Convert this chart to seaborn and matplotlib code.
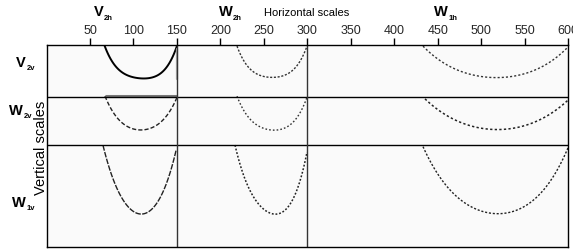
import matplotlib
matplotlib.use("Agg")
import matplotlib.pyplot as plt
import seaborn as sns
import pandas as pd

# ---- data (horizontal-scale units, vertical offset units from top) ----
x_ticks = [50, 100, 150, 200, 250, 300, 350, 400, 450, 500, 550, 600]
row_bounds = [52, 100]
col_bounds = [150, 300]

v2v_v2h_x = [66.2, 73.1, 82.3, 93.8, 109.9, 124.8, 136.3, 145.5, 150.0]
v2v_v2h_y = [0, 11, 25, 31, 33, 31, 25, 11, 1]
v2v_w2h_x = [219.2, 224.9, 234.1, 243.3, 251.4, 262.9, 274.4, 285.9, 295.1, 299.7]
v2v_w2h_y = [1, 13, 23, 30, 32, 32, 30, 23, 11, 1]
v2v_w1h_x = [433.2, 444.7, 460.8, 479.2, 498.7, 518.3, 536.7, 556.3, 575.8, 590.8, 600.0]
v2v_w1h_y = [1, 11, 19, 27, 32, 33, 31, 26, 19, 11, 1]

w2v_v2h_x = [67.3, 70.8, 78.8, 90.3, 107.6, 124.8, 138.6, 145.5, 150.0]
w2v_v2h_y = [51, 58, 70, 80, 85, 81, 71, 60, 53]
w2v_w2h_x = [219.2, 224.9, 234.1, 243.3, 254.9, 266.4, 276.7, 288.2, 297.4, 300.0]
w2v_w2h_y = [51, 63, 73, 81, 85, 85, 81, 73, 58, 51]
w2v_w1h_x = [435.5, 449.3, 464.3, 483.8, 506.8, 525.3, 544.8, 564.4, 582.8, 594.3, 600.0]
w2v_w1h_y = [54, 64, 72, 80, 84, 85, 81, 76, 67, 61, 54]

w1v_v2h_x = [65.0, 70.8, 78.8, 88.0, 98.4, 107.6, 116.8, 128.3, 138.6, 145.5, 149.0]
w1v_v2h_y = [101, 118, 138, 156, 166, 169, 166, 156, 138, 118, 105]
w1v_w2h_x = [216.9, 222.6, 230.7, 239.9, 249.1, 260.6, 272.1, 282.5, 291.7, 297.4, 299.7]
w1v_w2h_y = [101, 118, 138, 155, 165, 169, 165, 155, 138, 118, 105]
w1v_w1h_x = [433.2, 444.7, 460.8, 479.2, 498.7, 518.3, 536.7, 556.3, 575.8, 590.8, 600.0]
w1v_w1h_y = [102, 121, 141, 157, 166, 169, 166, 157, 141, 121, 102]

curves = [
    (v2v_v2h_x, v2v_v2h_y, dict(color="black", lw=1.4, ls="-")),
    (v2v_w2h_x, v2v_w2h_y, dict(color="#333333", lw=1.0, ls=(0, (1.5, 1.2)))),
    (v2v_w1h_x, v2v_w1h_y, dict(color="#333333", lw=1.0, ls=(0, (1.5, 1.5)))),
    (w2v_v2h_x, w2v_v2h_y, dict(color="#222222", lw=1.0, ls=(0, (3, 1.5)))),
    (w2v_w2h_x, w2v_w2h_y, dict(color="#333333", lw=1.0, ls=(0, (1.2, 1.5)))),
    (w2v_w1h_x, w2v_w1h_y, dict(color="#222222", lw=1.1, ls=(0, (1.5, 1.5)))),
    (w1v_v2h_x, w1v_v2h_y, dict(color="#222222", lw=1.0, ls=(0, (4, 1)))),
    (w1v_w2h_x, w1v_w2h_y, dict(color="#222222", lw=1.1, ls=(0, (1.2, 1.2)))),
    (w1v_w1h_x, w1v_w1h_y, dict(color="#222222", lw=1.0, ls=(0, (1.5, 1.3)))),
]

sns.set_style("white")
plt.rcParams["font.family"] = ["Liberation Sans", "DejaVu Sans"]

W, H = 573, 251
fig = plt.figure(figsize=(W / 100, H / 100), dpi=100)
ax = fig.add_axes([46.5 / W, 1 - 248 / H, (568 - 46.5) / W, (248 - 46) / H])
ax.set_facecolor("#fafafa")

for xs, ys, st in curves:
    df = pd.DataFrame({"x": xs, "y": ys})
    sns.regplot(data=df, x="x", y="y", order=4, scatter=False, ci=None,
                truncate=True, ax=ax, color=st["color"],
                line_kws=dict(linewidth=st["lw"], linestyle=st["ls"]))

# gray overlay marks seen in the figure
ax.plot([67.3, 150], [51, 51], color="#777777", lw=2.2, solid_capstyle="butt")
ax.plot([150.5, 150.5], [4, 34], color="#aaaaaa", lw=1.6)

for b in row_bounds:
    ax.axhline(b, color="black", lw=1.0)
for b in col_bounds:
    ax.axvline(b, color="#333333", lw=1.0)

ax.set_xlim(0, 600)
ax.set_ylim(202, 0)
ax.set_xlabel("")
ax.set_ylabel("")
ax.set_xticks(x_ticks)
ax.set_xticklabels([str(t) for t in x_ticks])
ax.xaxis.tick_top()
ax.tick_params(axis="x", direction="out", length=5, width=1, color="black",
               labelsize=9, pad=1.5, top=True, bottom=False)
ax.set_yticks([])
for s in ax.spines.values():
    s.set_visible(True)
    s.set_color("black")
    s.set_linewidth(1.0)


def px(x, y):
    return x / W, 1 - y / H


def scale_label(x, y, main, sub):
    t = fig.text(*px(x, y), main, ha="center", va="center", fontsize=10.5,
                 fontweight="bold", color="black")
    ax.annotate(sub, xy=(1, 0.1), xycoords=t, xytext=(0.6, 0),
                textcoords="offset points", ha="left", va="center",
                fontsize=5.5, fontweight="bold", color="black",
                annotation_clip=False)


scale_label(98.5, 12.5, "V", "2h")
scale_label(225.5, 12.5, "W", "2h")
scale_label(441, 12.5, "W", "1h")
scale_label(21, 63, "V", "2v")
scale_label(16, 111, "W", "2v")
scale_label(19, 203, "W", "1v")

fig.text(*px(307, 12.5), "Horizontal scales", ha="center", va="center",
         fontsize=8, color="black")
fig.text(*px(41, 148), "Vertical scales", ha="center", va="center",
         fontsize=10.5, color="black", rotation=90)

fig.savefig("out.png", dpi=100, facecolor="white")
